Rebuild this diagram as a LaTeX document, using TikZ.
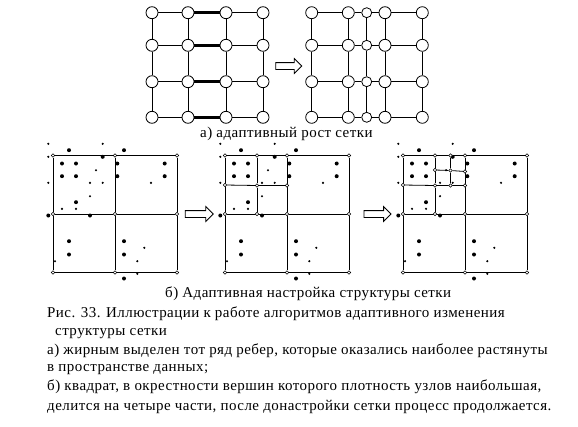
\documentclass[tikz,border=0pt]{standalone}
\usepackage{fontspec}
\setmainfont{Liberation Serif}[LetterSpace=3]
\usetikzlibrary{shapes.arrows, positioning, backgrounds}
\tikzset{
    % Grid of knots
    knot/.style={circle, draw, fill=white, inner sep=0pt, minimum size=12pt, line width=0.8pt},
    subknot/.style={knot, minimum size=10pt},
    link/.style={line width=0.8pt},
    stretched/.style={line width=3pt},
    % Panels
    vtx/.style={circle, draw, fill=white, inner sep=0pt, minimum size=3.6pt, line width=0.5pt},
    bigdot/.style={circle, fill=black, inner sep=0pt, minimum size=4pt},
    smalldot/.style={circle, fill=black, inner sep=0pt, minimum size=2.4pt},
    % Arrows & text
    bigarrow/.style={single arrow, draw, line width=0.8pt, inner sep=3pt,
                     single arrow head extend=4pt, minimum height=26pt},
    txt/.style={font=\fontsize{15}{18}\selectfont, inner sep=0pt, anchor=base west}
}
% data points, relative to the upper left corner of a panel
\newcommand{\bigpts}{16/-5.3, 71/-5.3, 49.7/1.3, 9/8, 23/8, 64.3/8, 111.7/8,
  9/20.7, 23/20.7, 64.3/20.7, 111.7/20.7, 23/46.7, -4.7/60, 37/60,
  16/85.7, 71/85.7, 16/99, 71/99, 71/123}
\newcommand{\smallpts}{-4.7/-11.7, 49.7/-11.7, -4.7/1.3, 43/14.7, -4.7/27.3,
  37/27.3, 49.7/27.3, 98/27.3, 37/40.7, 9/53.3, 23/53.3, 2/105.7,
  84.3/105.7, 91.3/92.3, 84.3/118.3}

\begin{document}
\begin{tikzpicture}[x=1pt, y=-1pt]
\useasboundingbox (0,0) rectangle (578,426);

% a) grid before and after growth
\foreach \y [count=\j] in {12.7, 45.3, 81.7, 117.3} {
    \foreach \x [count=\i] in {152, 188, 226, 263}
        \node[knot] (a\i\j) at (\x,\y) {};
    \foreach \x/\s [count=\i] in {311.7/knot, 348.3/knot, 366.7/subknot, 385/knot, 422.3/knot}
        \node[\s] (b\i\j) at (\x,\y) {};
}
\foreach \j in {1,...,4} {
    \draw[link] (a1\j) -- (a2\j);
    \draw[stretched] (a2\j) -- (a3\j);
    \draw[link] (a3\j) -- (a4\j);
    \draw[link] (b1\j) -- (b2\j) -- (b3\j) -- (b4\j) -- (b5\j);
}
\foreach \j/\k in {1/2, 2/3, 3/4} {
    \foreach \i in {1,...,4}
        \draw[link] (a\i\j) -- (a\i\k);
    \foreach \i in {1,...,5}
        \draw[link] (b\i\j) -- (b\i\k);
}
\node[bigarrow] (growth) at (287,66) {};
\node[txt] (capA) at (200,137.3) {а) адаптивный рост сетки};

% b) three panels
\foreach \k/\ox in {1/53, 2/225, 3/403} {
    \begin{scope}[shift={(\ox,155.5)}, name prefix=p\k-]
        \foreach \c/\x in {0/0, 1/62, 2/124}
            \foreach \r/\y in {0/0, 1/58.5, 2/117}
                \node[vtx] (v\c\r) at (\x,\y) {};
        \begin{scope}[on background layer]
            \draw[link] (v00) -- (v10) -- (v20) -- (v21) -- (v22) -- (v12) -- (v02) -- (v01) -- (v00);
            \draw[link] (v01) -- (v11) -- (v21);
            \draw[link] (v10) -- (v11) -- (v12);
        \end{scope}
        \foreach \x/\y in \bigpts
            \node[bigdot] at (\x,\y) {};
        \foreach \x/\y in \smallpts
            \node[smalldot] at (\x,\y) {};
    \end{scope}
}

% split of the densest square
\foreach \k/\ox in {2/225, 3/403} {
    \begin{scope}[shift={(\ox,155.5)}, name prefix=p\k-]
        \node[vtx] (st) at (32,0) {};
        \node[vtx] (sl) at (0,29.5) {};
        \node[vtx] (sc) at (32,30) {};
        \node[vtx] (sr) at (62,30) {};
        \node[vtx] (sb) at (32,58.5) {};
        \begin{scope}[on background layer]
            \draw[link] (st) -- (sc) -- (sb);
            \draw[link] (sl) -- (sc) -- (sr);
        \end{scope}
    \end{scope}
}
\begin{scope}[shift={(403,155.5)}, name prefix=p3-]
    \node[vtx] (qt) at (47.5,0) {};
    \node[vtx] (ql) at (32,14.5) {};
    \node[vtx] (qc) at (47.5,15) {};
    \node[vtx] (qr) at (62,16) {};
    \node[vtx] (qb) at (47.5,30) {};
    \begin{scope}[on background layer]
        \draw[link] (qt) -- (qc) -- (qb);
        \draw[link] (ql) -- (qc) -- (qr);
    \end{scope}
\end{scope}

\node[bigarrow, minimum height=28pt] (step1) at (197.5,214) {};
\node[bigarrow, minimum height=27pt] (step2) at (375.8,214) {};

% captions
\node[txt] (capB) at (165,297.3) {б) Адаптивная настройка структуры сетки};
\node[txt] (fig1) at (47,317.7) {Рис. 33. Иллюстрации к работе алгоритмов адаптивного изменения};
\node[txt] (fig2) at (55,335) {структуры сетки};
\node[txt] (noteA1) at (47,354) {а) жирным выделен тот ряд ребер, которые оказались наиболее растянуты};
\node[txt] (noteA2) at (47,371.7) {в пространстве данных;};
\node[txt] (noteB1) at (47,390) {б) квадрат, в окрестности вершин которого плотность узлов наибольшая,};
\node[txt] (noteB2) at (47,410) {делится на четыре части, после донастройки сетки процесс продолжается.};
\end{tikzpicture}
\end{document}
